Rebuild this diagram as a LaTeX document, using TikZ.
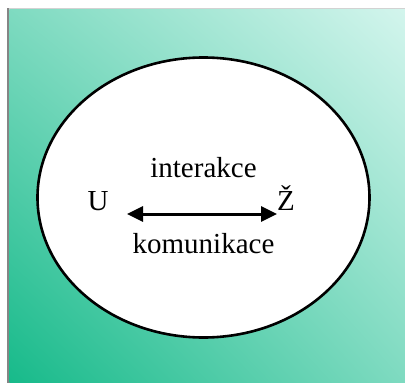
\documentclass[tikz,border=0pt]{standalone}
\usepackage{fontspec}
\setmainfont{Liberation Serif}
\usetikzlibrary{arrows.meta,positioning,calc,shapes.geometric,shadings}
\definecolor{tealdark}{HTML}{17BA8A}
\definecolor{tealpale}{HTML}{D3F5ED}
\definecolor{shadowgrey}{HTML}{858585}
\tikzset{
  oval/.style       = {draw=black, line width=2.6pt, ellipse, fill=white,
                       minimum width=332pt, minimum height=280pt, inner sep=0pt},
  lbl/.style        = {font=\fontsize{29}{34}\selectfont, inner sep=0pt, anchor=base},
  sig/.style        = {{Triangle[length=16pt,width=15pt]}-{Triangle[length=16pt,width=15pt]},
                       line width=3pt},
}
\begin{document}
\begin{tikzpicture}[x=1pt, y=-1pt]
  \useasboundingbox (0,0) rectangle (405,383);
  % background panel with shadow
  \fill[shadowgrey] (7,8) rectangle (405,383);
  \fill[gray!35] (9,8) rectangle (405,9.5);
  \shade[lower left=tealdark, upper right=tealpale,
         upper left=tealdark!45!tealpale, lower right=tealdark!45!tealpale]
    (9.5,9.5) rectangle (405,383);
  \node[oval] (oval) at (203.5,197.5) {};
  \node[lbl] (inter) at (203.5,177) {interakce};
  \node[lbl] (u) at (98,210) {U};
  \node[lbl] (z) at (286,210) {Ž};
  \node[lbl] (komu) at (203.5,253) {komunikace};
  \coordinate (al) at (127,214);
  \coordinate (ar) at (277,214);
  \draw[sig] (al) -- (ar);
\end{tikzpicture}
\end{document}
